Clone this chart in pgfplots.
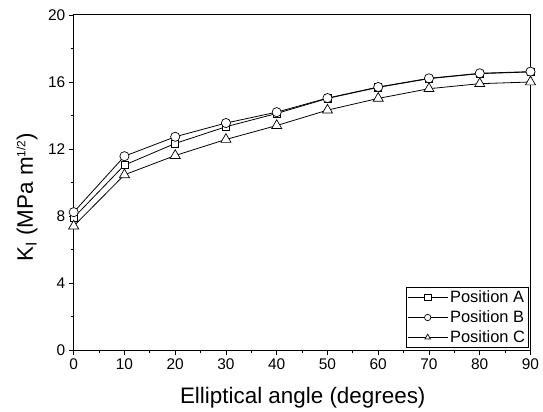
\documentclass[border=0pt]{standalone}
\usepackage{pgfplots}
\pgfplotsset{compat=1.18}
\usepackage{fontspec}
\setmainfont{Liberation Sans}
\begin{document}
\begin{tikzpicture}
\begin{axis}[
  at={(0,0)}, anchor=south west,
  scale only axis, width=456.8bp, height=335bp,
  xmin=0, xmax=90, ymin=0, ymax=20,
  xtick={0,10,...,90}, ytick={0,4,...,20},
  minor xtick={5,15,...,85}, minor ytick={2,6,...,18},
  tick align=outside, tick pos=left,
  major tick length=5bp, minor tick length=3bp,
  axis line style={line width=1bp},
  every tick/.style={black, line width=0.9bp},
  tick label style={font=\fontsize{15.5}{17}\selectfont},
  /pgf/number format/assume math mode=true,
  xlabel={Elliptical angle (degrees)},
  ylabel={K\textsubscript{I} (MPa m\textsuperscript{\fontsize{12}{12}\selectfont 1/2})},
  label style={font=\fontsize{22.5}{26}\selectfont},
  xlabel style={at={(axis description cs:0.5015,-0.161)}, anchor=base},
  ylabel style={at={(axis description cs:-0.102,0.456)}, anchor=center},
  legend style={at={(axis description cs:0.9954,0.006)}, anchor=south east,
    font=\fontsize{16.5}{18}\selectfont, draw=black, line width=0.8bp,
    inner xsep=1bp, inner ysep=1.5bp, row sep=2.5bp, legend cell align=left},
  legend image code/.code={\draw[mark repeat=2,mark phase=2,#1, mark size=3.2bp] plot coordinates {(0bp,0bp)(20bp,0bp)(40bp,0bp)};},
]
\addplot[black, line width=0.8bp, mark=square*, mark size=3.6bp, mark options={draw=black, fill=white, line width=0.7bp}] coordinates {
(0,7.9)(10,11.04)(20,12.33)(30,13.33)(40,14.12)(50,15.02)(60,15.68)(70,16.2)(80,16.5)(90,16.6)};
\addlegendentry{Position A}
\addplot[black, line width=0.8bp, mark=*, mark size=4.6bp, mark options={draw=black, fill=white, line width=0.7bp}] coordinates {
(0,8.23)(10,11.57)(20,12.73)(30,13.55)(40,14.2)(50,15.04)(60,15.7)(70,16.22)(80,16.52)(90,16.62)};
\addlegendentry{Position B}
\addplot[black, line width=0.8bp, mark=triangle*, mark size=5.8bp, mark options={draw=black, fill=white, line width=0.7bp}] coordinates {
(0,7.4)(10,10.46)(20,11.61)(30,12.57)(40,13.4)(50,14.32)(60,15.02)(70,15.6)(80,15.9)(90,16.0)};
\addlegendentry{Position C}
\end{axis}
\pgfresetboundingbox
\path[use as bounding box] (-73.7bp,-62bp) rectangle (469.3bp,350bp);
\end{tikzpicture}
\end{document}
